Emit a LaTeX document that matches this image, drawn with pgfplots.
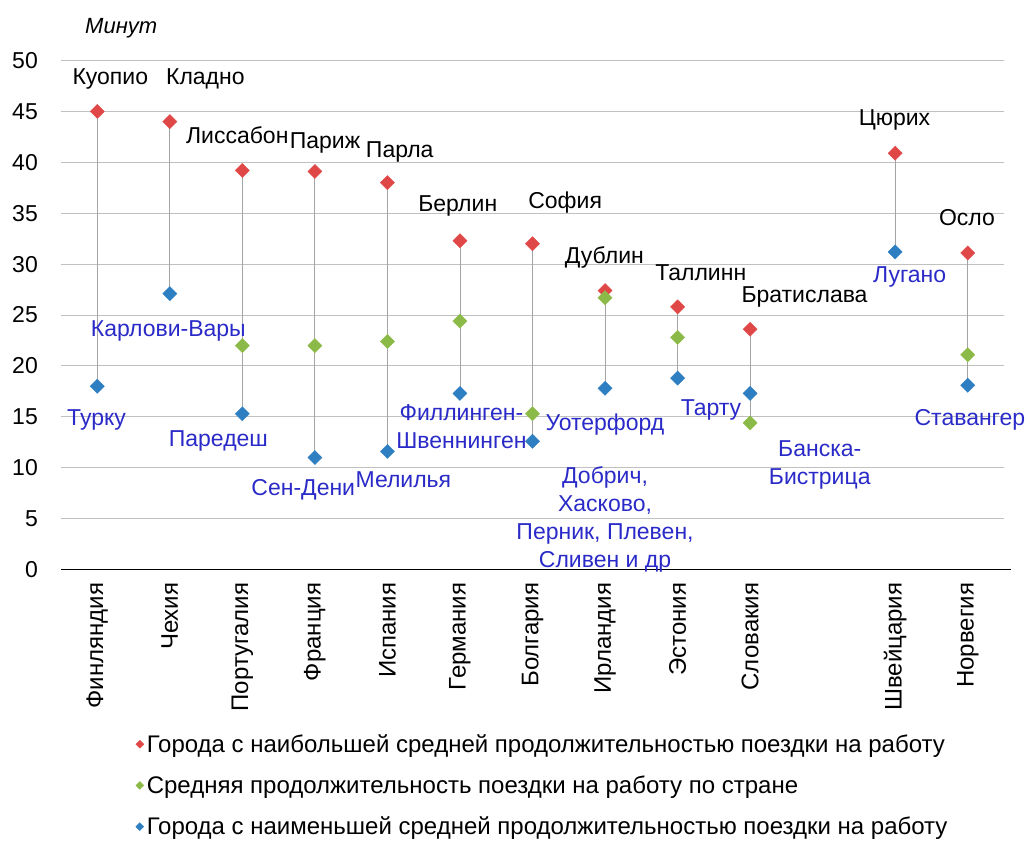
\documentclass[border=0pt]{standalone}
\usepackage{fontspec}
\setmainfont{Liberation Sans}
\usepackage{pgfplots}
\usepackage{pgfplotstable}
\pgfplotsset{compat=1.18}

\definecolor{cRed}{HTML}{E04848}
\definecolor{cGreen}{HTML}{8CBA48}
\definecolor{cBlue}{HTML}{2E7FC2}
\definecolor{lblBlue}{HTML}{2A2AC8}
\definecolor{gridGray}{HTML}{C0C0C0}
\definecolor{stemGray}{HTML}{A4A4A4}

% x: 0..12, slot 10 left empty
\pgfplotstableread{
x hi span
0 45.0 27.0
1 44.0 16.9
2 39.2 23.9
3 39.1 28.1
4 38.0 26.4
5 32.3 15.0
6 32.0 19.4
7 27.4 9.6
8 25.8 7.0
9 23.6 9.2
11 40.9 9.7
12 31.1 13.0
}\stems

\begin{document}
\begin{tikzpicture}
\path[use as bounding box] (0,0) rectangle (1030pt,-841pt);
\begin{axis}[
    at={(61pt,-569.5pt)}, anchor=south west,
    scale only axis, width=943pt, height=509pt,
    xmin=-0.5, xmax=12.5, ymin=0, ymax=50,
    clip=false,
    axis line style={draw=none},
    tick style={draw=none},
    ytick={0,5,...,50},
    ymajorgrids, grid style={gridGray, line width=0.9pt},
    xtick={0,1,2,3,4,5,6,7,8,9,11,12},
    xticklabels={Финляндия,Чехия,Португалия,Франция,Испания,Германия,Болгария,Ирландия,Эстония,Словакия,Швейцария,Норвегия},
    tick label style={font=\fontsize{23}{26}\selectfont},
    yticklabel style={anchor=east, inner sep=0pt, xshift=-23pt},
    xticklabel style={rotate=90, anchor=east, inner sep=0pt, inner xsep=13pt, font=\fontsize{24}{26}\selectfont},
    /pgf/number format/assume math mode=true,
    legend style={draw=none, fill=none, font=\fontsize{24}{28}\selectfont,
        at={(axis description cs:0.076,-0.316)}, anchor=north west,
        row sep=18pt, /tikz/every odd column/.style={column sep=1pt}},
    legend cell align=left,
    legend image code/.code={\draw[#1, mark size=2.8pt] plot coordinates {(0pt,0pt)};},
]
\addplot[only marks, mark=none, forget plot,
    error bars/.cd, y dir=minus, y explicit, error mark=none,
    error bar style={draw=stemGray, line width=0.9pt}]
    table[x=x, y=hi, y error minus=span] {\stems};

\draw[black, line width=1.6pt] (axis cs:-0.5,0) -- (axis cs:12.6,0);

\addplot[only marks, mark=square*, mark size=5pt, mark options={rotate=45, draw=cRed, fill=cRed}, color=cRed]
    coordinates {(0,45.0) (1,44.0) (2,39.2) (3,39.1) (4,38.0) (5,32.3) (6,32.0) (7,27.4) (8,25.8) (9,23.6) (11,40.9) (12,31.1)};
\addplot[only marks, mark=square*, mark size=5pt, mark options={rotate=45, draw=cGreen, fill=cGreen}, color=cGreen]
    coordinates {(2,22.0) (3,22.0) (4,22.4) (5,24.4) (6,15.3) (7,26.7) (8,22.8) (9,14.4) (12,21.1)};
\addplot[only marks, mark=square*, mark size=5pt, mark options={rotate=45, draw=cBlue, fill=cBlue}, color=cBlue]
    coordinates {(0,18.0) (1,27.1) (2,15.3) (3,11.0) (4,11.6) (5,17.3) (6,12.6) (7,17.8) (8,18.8) (9,17.3) (11,31.2) (12,18.1)};
\legend{Города с наибольшей средней продолжительностью поездки на работу,
        Средняя продолжительность поездки на работу по стране,
        Города с наименьшей средней продолжительностью поездки на работу}

% axis title
\node[font=\fontsize{22}{26}\selectfont\itshape] at (axis cs:0.33,53.2) {Минут};

% cities with the longest trips
\begin{scope}[every node/.style={font=\fontsize{23}{28}\selectfont, black, inner sep=0pt}]
\node at (axis cs:0.18,48.2) {Куопио};
\node at (axis cs:1.49,48.2) {Кладно};
\node at (axis cs:1.93,42.7) {Лиссабон};
\node at (axis cs:3.14,41.9) {Париж};
\node at (axis cs:4.17,41.0) {Парла};
\node at (axis cs:4.97,35.7) {Берлин};
\node at (axis cs:6.45,36.0) {София};
\node at (axis cs:6.99,30.7) {Дублин};
\node at (axis cs:8.32,29.2) {Таллинн};
\node at (axis cs:9.75,26.8) {Братислава};
\node at (axis cs:10.99,44.2) {Цюрих};
\node at (axis cs:11.99,34.6) {Осло};
\end{scope}

% cities with the shortest trips
\begin{scope}[every node/.style={font=\fontsize{23}{28}\selectfont, text=lblBlue, inner sep=0pt, align=center}]
\node at (axis cs:-0.01,14.7) {Турку};
\node at (axis cs:0.98,23.4) {Карлови-Вары};
\node at (axis cs:1.67,12.6) {Паредеш};
\node at (axis cs:2.84,7.8) {Сен-Дени};
\node at (axis cs:4.22,8.8) {Мелилья};
\node at (axis cs:5.02,14.0) {Филлинген-\\Швеннинген};
\node at (axis cs:7.0,14.2) {Уотерфорд};
\node at (axis cs:7.0,4.9) {Добрич,\\Хасково,\\Перник, Плевен,\\Сливен и др};
\node at (axis cs:8.46,15.7) {Тарту};
\node at (axis cs:9.96,10.3) {Банска-\\Бистрица};
\node at (axis cs:11.2,28.7) {Лугано};
\node at (axis cs:12.03,14.7) {Ставангер};
\end{scope}
\end{axis}
\end{tikzpicture}
\end{document}
